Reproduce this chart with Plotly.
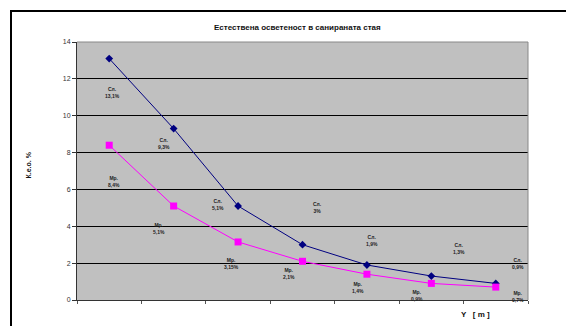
import plotly.graph_objects as go

categories = ["1", "2", "3", "4", "5", "6", "7"]
sl_values = [13.1, 9.3, 5.1, 3.0, 1.9, 1.3, 0.9]
mr_values = [8.4, 5.1, 3.15, 2.1, 1.4, 0.9, 0.7]
sl_labels = ["13,1%", "9,3%", "5,1%", "3%", "1,9%", "1,3%", "0,9%"]
mr_labels = ["8,4%", "5,1%", "3,15%", "2,1%", "1,4%", "0,9%", "0,7%"]
y_ticks = [0, 2, 4, 6, 8, 10, 12, 14]

# label offsets in pixels (dx right, dy down) relative to each point
sl_offsets = [(3, 34), (-10, 15), (-20, -2), (15, -37), (5, -24), (28, -28), (22, -20)]
mr_offsets = [(5, 36), (-15, 22), (-7, 22), (-14, 12), (-9, 13), (-14, 12), (22, 9)]

OFF = 8  # default page body margin
W, H = 574 - OFF, 326 - OFF
# plot area in screen pixels: x 77..528, y 42..300
SX0, SX1, SY0, SY1 = 77, 528, 42, 300
L = SX0 - OFF
T = SY0 - OFF
R = W - (SX1 - OFF)
B = H - (SY1 - OFF)

fig = go.Figure()
fig.add_trace(go.Scatter(
    x=categories, y=sl_values, mode="lines+markers", name="Сл.",
    line=dict(color="#000080", width=1),
    marker=dict(symbol="diamond", size=6, color="#000080"),
    cliponaxis=False,
))
fig.add_trace(go.Scatter(
    x=categories, y=mr_values, mode="lines+markers", name="Мр.",
    line=dict(color="#FF00FF", width=1),
    marker=dict(symbol="square", size=7, color="#FF00FF"),
    cliponaxis=False,
))

lab_font = dict(family="Liberation Sans, Arial, sans-serif", size=5, color="#222222")
for i, (v, t, (dx, dy)) in enumerate(zip(sl_values, sl_labels, sl_offsets)):
    fig.add_annotation(x=i, y=v, text="<b>Сл.</b><br><b>" + t + "</b>", showarrow=False,
                       xshift=dx, yshift=-dy, font=lab_font, align="center")
for i, (v, t, (dx, dy)) in enumerate(zip(mr_values, mr_labels, mr_offsets)):
    fig.add_annotation(x=i, y=v, text="<b>Мр.</b><br><b>" + t + "</b>", showarrow=False,
                       xshift=dx, yshift=-dy, font=lab_font, align="center")

pw = SX1 - SX0
ph = SY1 - SY0
def px(x):
    return (x - SX0) / pw
def py(y):
    return (SY1 - y) / ph

# outer chart border
fig.add_shape(type="rect", xref="paper", yref="paper",
              x0=px(11), y0=py(345), x1=px(600), y1=py(11),
              line=dict(color="black", width=2), fillcolor="rgba(0,0,0,0)", layer="below")

tfont = dict(family="Liberation Sans, Arial, sans-serif", size=7, color="#111111")
fig.add_annotation(xref="paper", yref="paper", x=px(297), y=py(21),
                   text="<b>Естествена осветеност в санираната стая</b>", showarrow=False,
                   font=dict(family="Liberation Sans, Arial, sans-serif", size=8, color="#111111"))
fig.add_annotation(xref="paper", yref="paper", x=px(22), y=py(165), text="<b>К.е.о. %</b>", textangle=-90,
                   showarrow=False, font=tfont)
fig.add_annotation(xref="paper", yref="paper", x=px(492), y=py(314), yanchor="middle",
                   text="<b>Y   [ m ]</b>", showarrow=False,
                   font=dict(family="Liberation Sans, Arial, sans-serif", size=8, color="#111111"))

fig.update_layout(
    width=W, height=H,
    margin=dict(l=L, r=R, t=T, b=B, autoexpand=False),
    paper_bgcolor="white",
    plot_bgcolor="#C0C0C0",
    showlegend=False,
)
fig.update_xaxes(
    type="category", range=[-0.5, 6.5], showticklabels=False,
    showgrid=False, showline=True, linecolor="#333333", linewidth=1, mirror=False,
    ticks="outside", ticklen=3, tickcolor="#555555", tickson="boundaries", zeroline=False,
)
fig.update_yaxes(
    range=[0, 14], tickvals=y_ticks, ticktext=[str(v) for v in y_ticks],
    showgrid=True, gridcolor="black", gridwidth=1,
    showline=True, linecolor="#333333", linewidth=1,
    ticks="outside", ticklen=4, tickcolor="#333333",
    tickfont=dict(family="Liberation Sans, Arial, sans-serif", size=7, color="#333333"),
    zeroline=False,
)
# right and top plot border (gray)
fig.add_shape(type="line", xref="paper", yref="paper", x0=1, x1=1, y0=0, y1=1,
              line=dict(color="#888888", width=1))
fig.add_shape(type="line", xref="paper", yref="paper", x0=0, x1=1, y0=1, y1=1,
              line=dict(color="#888888", width=1))

fig.write_html("out.html")
